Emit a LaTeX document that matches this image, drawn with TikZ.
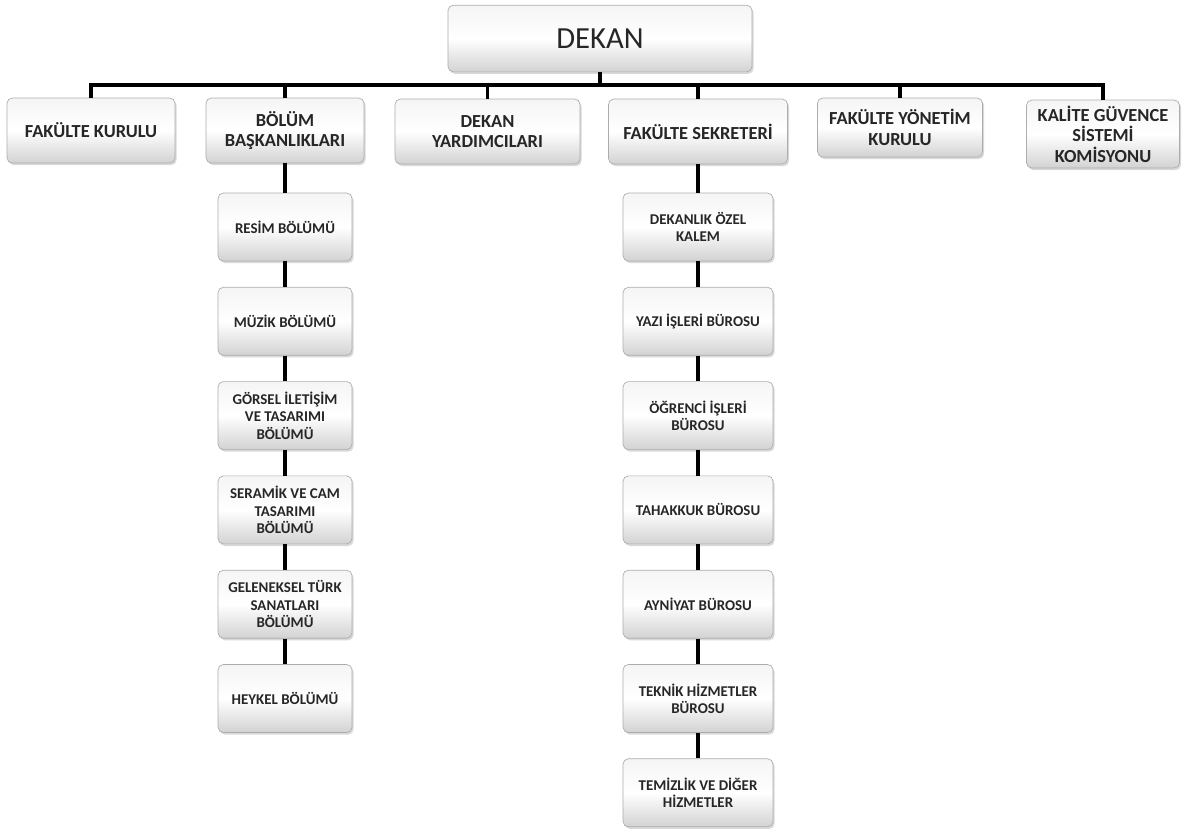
\documentclass[tikz,border=0pt]{standalone}
\usepackage{fontspec}
\setmainfont{Carlito}
\usetikzlibrary{shadows}

\tikzset{
  box/.style={rounded corners=4pt, draw=gray!65, line width=0.5pt,
    top color=gray!8, bottom color=gray!35, middle color=white,
    drop shadow={opacity=0.3, shadow xshift=1.2pt, shadow yshift=-1.6pt},
    align=center, text=black!85, inner sep=2pt},
  topbox/.style={box, minimum width=228pt, minimum height=50pt, font=\fontsize{23}{27}\selectfont},
  midbox/.style={box, minimum height=48.75pt, font=\bfseries\fontsize{13.8}{15.3}\selectfont},
  leftbox/.style={box, minimum width=100.5pt, minimum height=51pt, font=\bfseries\fontsize{11.2}{13}\selectfont},
  rightbox/.style={box, minimum width=112.5pt, minimum height=51pt, font=\bfseries\fontsize{11.2}{13}\selectfont},
  bus/.style={line width=2.8pt},
  link/.style={line width=2.4pt}
}

\begin{document}
\begin{tikzpicture}[x=0.75pt, y=-0.75pt]
			%%%%% START %%%%%
			\useasboundingbox (0,0) rectangle (1199,832);
			
			\node[topbox] (dekan) at (600, 38.5) {DEKAN};
			
			\node[midbox, minimum width=126pt] (fk) at (91, 130.5) {FAKÜLTE KURULU};
			\node[midbox, minimum width=118.5pt] (bb) at (285, 130.5) {BÖLÜM\\BAŞKANLIKLARI};
			\node[midbox, minimum width=138.75pt] (dy) at (487.5, 131.5) {DEKAN\\YARDIMCILARI};
			\node[midbox, minimum width=134.25pt] (fs) at (698, 131.5) {FAKÜLTE SEKRETERİ};
			\node[midbox, minimum width=123.75pt, minimum height=44.25pt] (fyk) at (900, 127.5) {FAKÜLTE YÖNETİM\\KURULU};
			\node[midbox, minimum width=114.75pt, minimum height=51pt] (kg) at (1103, 134) {KALİTE GÜVENCE\\SİSTEMİ\\KOMİSYONU};
			
			% bolumler
			\node[leftbox] (resim) at (285, 227) {RESİM BÖLÜMÜ};
			\node[leftbox] (muzik) at (285, 321.3) {MÜZİK BÖLÜMÜ};
			\node[leftbox] (gorsel) at (285, 415.6) {GÖRSEL İLETİŞİM\\VE TASARIMI\\BÖLÜMÜ};
			\node[leftbox] (seramik) at (285, 509.9) {SERAMİK VE CAM\\TASARIMI\\BÖLÜMÜ};
			\node[leftbox] (geleneksel) at (285, 604.2) {GELENEKSEL TÜRK\\SANATLARI\\BÖLÜMÜ};
			\node[leftbox] (heykel) at (285, 698.5) {HEYKEL BÖLÜMÜ};
			
			% burolar
			\node[rightbox] (ozel) at (698, 227) {DEKANLIK ÖZEL\\KALEM};
			\node[rightbox] (yazi) at (698, 321.3) {YAZI İŞLERİ BÜROSU};
			\node[rightbox] (ogrenci) at (698, 415.6) {ÖĞRENCİ İŞLERİ\\BÜROSU};
			\node[rightbox] (tahakkuk) at (698, 509.9) {TAHAKKUK BÜROSU};
			\node[rightbox] (ayniyat) at (698, 604.2) {AYNİYAT BÜROSU};
			\node[rightbox] (teknik) at (698, 698.5) {TEKNİK HİZMETLER\\BÜROSU};
			\node[rightbox] (temizlik) at (698, 792.8) {TEMİZLİK VE DİĞER\\HİZMETLER};
			
			\coordinate (busc) at (600, 85);
			\draw[bus] (dekan.south) -- (busc);
			\foreach \n in {fk,bb,dy,fs,fyk,kg}
				\draw[bus] (busc) -| (\n.north);
			
			\foreach \a/\b in {bb/resim, resim/muzik, muzik/gorsel, gorsel/seramik, seramik/geleneksel, geleneksel/heykel}
				\draw[link] (\a.south) -- (\b.north);
			
			\foreach \a/\b in {fs/ozel, ozel/yazi, yazi/ogrenci, ogrenci/tahakkuk, tahakkuk/ayniyat, ayniyat/teknik, teknik/temizlik}
				\draw[link] (\a.south) -- (\b.north);
			
			%%%%% END %%%%%
\end{tikzpicture}
\end{document}
